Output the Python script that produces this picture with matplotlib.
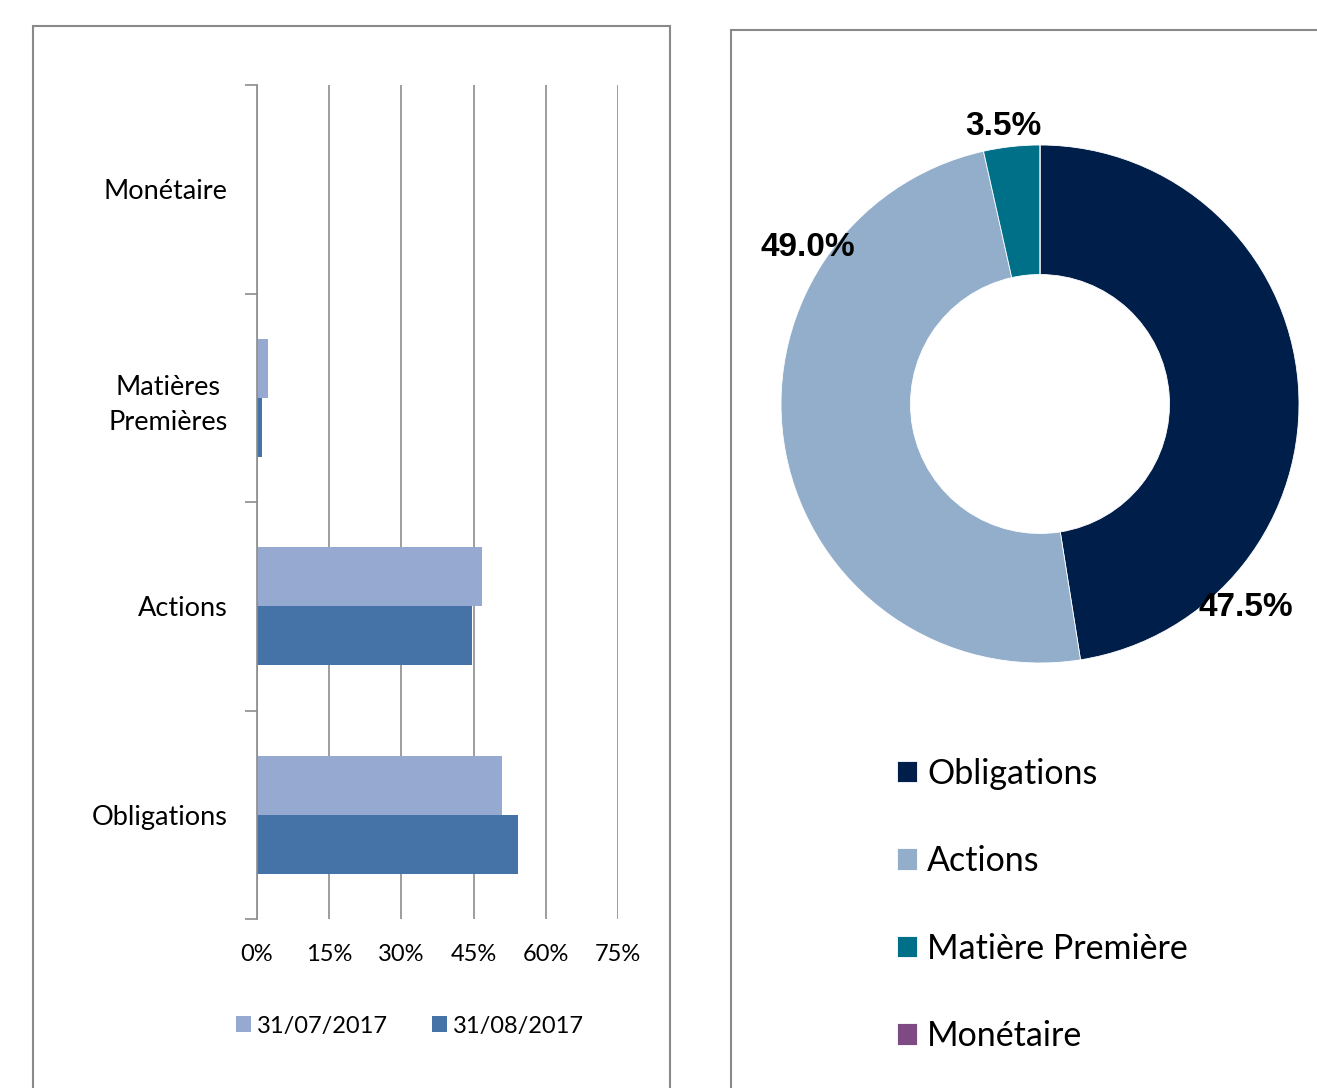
import matplotlib
matplotlib.use("Agg")
import matplotlib.pyplot as plt
from matplotlib.patches import Rectangle
import numpy as np

# ---- data ----
categories = ["Obligations", "Actions", "Matières\nPremières", "Monétaire"]
series_names = ["31/07/2017", "31/08/2017"]
vals_jul = [50.9, 46.7, 2.3, 0.0]
vals_aug = [54.2, 44.7, 1.0, 0.0]
x_ticks = [0, 15, 30, 45, 60, 75]
x_ticklabels = ["0%", "15%", "30%", "45%", "60%", "75%"]

donut_labels = ["Obligations", "Actions", "Matière Première", "Monétaire"]
donut_values = [47.5, 49.0, 3.5, 0.0]
donut_texts = ["47.5%", "49.0%", "3.5%"]

# ---- style ----
c_jul = "#95A9D1"
c_aug = "#4573A7"
donut_colors = ["#001E4A", "#92AECB", "#006F88", "#7E4A84"]
grid_c = "#8C8C8C"
W, H = 1317, 1088
font = ["Lato", "DejaVu Sans"]

fig = plt.figure(figsize=(W / 100, H / 100), dpi=100)

def px(x0, y0, x1, y1):
    return [x0 / W, 1 - y1 / H, (x1 - x0) / W, (y1 - y0) / H]

# panel borders
for (x0, y0, x1, y1) in [(33, 26, 670, 1100), (731, 30, 1330, 1100)]:
    fig.patches.append(Rectangle((x0 / W, 1 - y1 / H), (x1 - x0) / W, (y1 - y0) / H,
                                 transform=fig.transFigure, fill=False,
                                 edgecolor="#898989", linewidth=1.5))

# ---- bar chart ----
ax = fig.add_axes(px(257, 85, 618, 919))
y = np.arange(len(categories))
h = 0.283
ax.barh(y + h / 2, vals_jul, height=h, color=c_jul, label=series_names[0], zorder=3)
ax.barh(y - h / 2, vals_aug, height=h, color=c_aug, label=series_names[1], zorder=3)
ax.set_xlim(0, 75)
ax.set_ylim(-0.5, 3.5)
ax.set_xticks(x_ticks)
ax.set_xticklabels(x_ticklabels, family=font, fontsize=17)
ax.set_yticks(y)
ax.set_yticklabels(categories, family=font, fontsize=19.5, linespacing=1.5,
                   multialignment="center")
ax.set_yticks(np.arange(-0.5, 3.6, 1), minor=True)
ax.tick_params(axis="y", which="major", length=0, pad=21)
ax.tick_params(axis="y", which="minor", length=9, color=grid_c, width=1.2)
ax.tick_params(axis="x", length=0, pad=18)
ax.grid(axis="x", color=grid_c, linewidth=1.2, zorder=0)
for s in ["top", "right", "bottom"]:
    ax.spines[s].set_visible(False)
ax.spines["left"].set_color(grid_c)
ax.spines["left"].set_linewidth(1.2)
ax.spines["left"].set_zorder(4)
handles, labels = ax.get_legend_handles_labels()
fig.legend(handles, labels, loc="center", bbox_to_anchor=(410 / W, 1 - 1026 / H), ncol=2,
           frameon=False, prop={"family": font, "size": 17},
           handlelength=0.65, handleheight=0.65, handletextpad=0.25, columnspacing=1.83)

# ---- donut ----
cx, cy, r = 1040, 404, 259
ax2 = fig.add_axes(px(cx - r, cy - r, cx + r, cy + r))
wedges, _ = ax2.pie(donut_values, colors=donut_colors, startangle=90, counterclock=False,
                    radius=1.0, wedgeprops=dict(width=0.5, edgecolor="white", linewidth=0.6))
ax2.set_xlim(-1, 1)
ax2.set_ylim(-1, 1)
ax2.set_aspect("equal")
label_pos = [(0.795, -0.785), (-0.895, 0.606), (-0.143, 1.073)]
for txt, (lx, ly) in zip(donut_texts, label_pos):
    ax2.text(lx, ly, txt, ha="center", va="center", fontsize=24, fontweight="bold",
             family=["Liberation Sans", "DejaVu Sans"], clip_on=False)

fig.legend(wedges, donut_labels, loc="upper left", bbox_to_anchor=(866 / W, 1 - 727 / H),
           frameon=False, prop={"family": font, "size": 24.5}, handlelength=0.6,
           handleheight=0.6, handletextpad=0.3, labelspacing=1.63)

fig.savefig("out.png", dpi=100)
